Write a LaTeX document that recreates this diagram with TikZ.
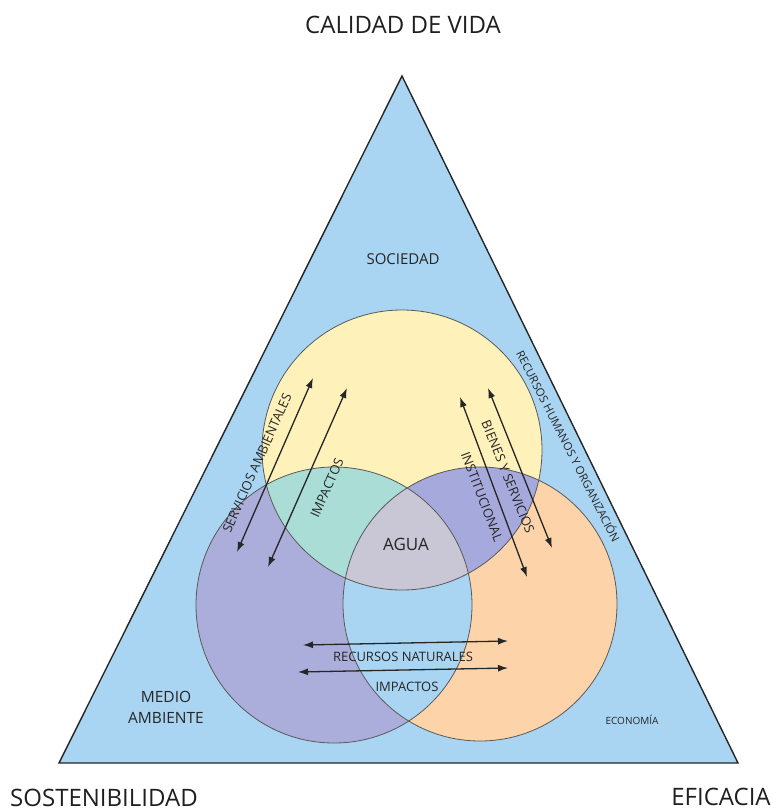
\documentclass[tikz,border=0pt]{standalone}
\usepackage{fontspec}
\setmainfont{Open Sans}
\usetikzlibrary{arrows.meta}
\definecolor{cielo}{HTML}{A9D5F2}
\definecolor{amarillo}{HTML}{FEF1B9}
\definecolor{lavanda}{HTML}{ABAEDB}
\definecolor{durazno}{HTML}{FDD4AA}
\definecolor{turquesa}{HTML}{A9DDD6}
\definecolor{violeta}{HTML}{A6A9DC}
\definecolor{gris}{HTML}{C9C6D6}
\begin{document}
\begin{tikzpicture}[x=1pt, y=-1pt,
	borde/.style={draw=black!65, line width=0.8pt},
	flecha/.style={{Latex[length=10pt,width=7pt]}-{Latex[length=10pt,width=7pt]}, line width=1.3pt, black!85},
	titulo/.style={font=\fontsize{24}{26}\selectfont, text=black!88, inner sep=0pt},
	etiqueta/.style={font=\fontsize{13}{14}\selectfont, text=black!85, inner sep=1pt}]
	\useasboundingbox (0,0) rectangle (774,812);
	% triangulo
	\coordinate (vida) at (402,76);
	\coordinate (efi) at (738,763);
	\coordinate (sost) at (59,763);
	\fill[cielo] (vida) -- (efi) -- (sost) -- cycle;
	% circulos
	\coordinate (sociedad) at (402,450);
	\coordinate (medio) at (334,605);
	\coordinate (economia) at (480,604);
	\fill[lavanda] (medio) circle[radius=138pt];
	\fill[durazno] (economia) circle[radius=137pt];
	\fill[amarillo] (sociedad) circle[radius=140pt];
	\begin{scope}
		\clip (sociedad) circle[radius=140pt];
		\fill[turquesa] (medio) circle[radius=138pt];
		\fill[violeta] (economia) circle[radius=137pt];
	\end{scope}
	\begin{scope}
		\clip (medio) circle[radius=138pt];
		\fill[cielo] (economia) circle[radius=137pt];
		\clip (economia) circle[radius=137pt];
		\fill[gris] (sociedad) circle[radius=140pt];
	\end{scope}
	\draw[borde] (medio) circle[radius=138pt];
	\draw[borde] (economia) circle[radius=137pt];
	\draw[borde] (sociedad) circle[radius=140pt];
	\draw[line width=1.4pt, black!85, line join=miter] (vida) -- (efi) -- (sost) -- cycle;

	% flechas
	\coordinate (sa1) at (237,552);
	\coordinate (sa2) at (313,378);
	\coordinate (im1) at (268,567);
	\coordinate (im2) at (347,388);
	\coordinate (in1) at (460,397);
	\coordinate (in2) at (527,577);
	\coordinate (bs1) at (488,388);
	\coordinate (bs2) at (552,548);
	\coordinate (rn1) at (303,645);
	\coordinate (rn2) at (508,641);
	\coordinate (ib1) at (298,672);
	\coordinate (ib2) at (508,668);
	\draw[flecha] (sa1) -- (sa2);
	\draw[flecha] (im1) -- (im2);
	\draw[flecha] (in1) -- (in2);
	\draw[flecha] (bs1) -- (bs2);
	\draw[flecha] (rn1) -- (rn2);
	\draw[flecha] (ib1) -- (ib2);

	% textos
	\node[titulo] (calidad) at (403,25) {CALIDAD DE VIDA};
	\node[titulo] (sostenibilidad) at (104,798) {SOSTENIBILIDAD};
	\node[titulo] (eficacia) at (721,797) {EFICACIA};
	\node[etiqueta, font=\fontsize{15}{16}\selectfont] (soc) at (403,259) {SOCIEDAD};
	\node[etiqueta, font=\fontsize{17}{18}\selectfont] (agua) at (406,544) {AGUA};
	\node[etiqueta, align=center, font=\fontsize{15.5}{21}\selectfont] (med) at (166,707) {MEDIO\\AMBIENTE};
	\node[etiqueta, font=\fontsize{10}{11}\selectfont] (eco) at (632,720) {ECONOMÍA};
	\node[etiqueta, rotate=66] (servicios) at (257,463) {SERVICIOS AMBIENTALES};
	\node[etiqueta, rotate=66] (impactos1) at (327,488) {IMPACTOS};
	\node[etiqueta, rotate=-69] (institucional) at (482,497) {INSTITUCIONAL};
	\node[etiqueta, rotate=-68] (bienes) at (508,477) {BIENES Y SERVICIOS};
	\node[etiqueta, rotate=-63, font=\fontsize{11.3}{12}\selectfont] (humanos) at (569,446) {RECURSOS HUMANOS Y ORGANIZACIÓN};
	\node[etiqueta] (naturales) at (403,657) {RECURSOS NATURALES};
	\node[etiqueta] (impactos2) at (407,687) {IMPACTOS};
\end{tikzpicture}
\end{document}
